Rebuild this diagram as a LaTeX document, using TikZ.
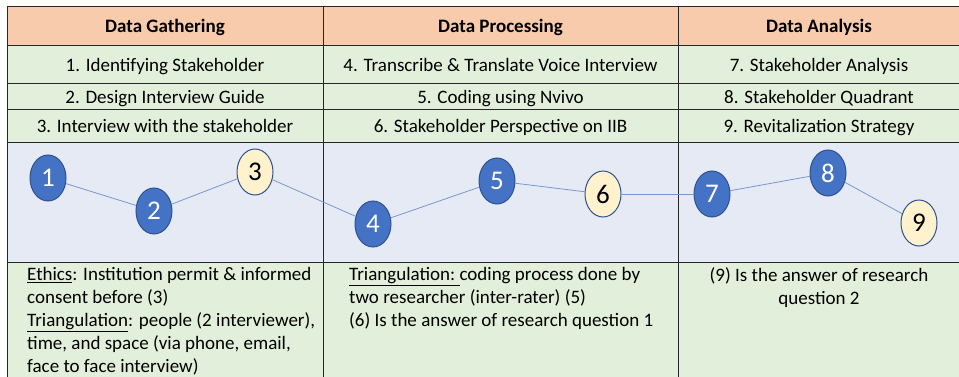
\documentclass[tikz,border=0pt]{standalone}
\usepackage{fontspec}
\setmainfont{Carlito}
\usetikzlibrary{positioning,shapes.geometric}
\definecolor{hpeach}{HTML}{F8CBAD}
\definecolor{rgreen}{HTML}{E2EFDA}
\definecolor{cblue}{RGB}{230,234,245}
\definecolor{sblue}{HTML}{4472C4}
\definecolor{sedge}{HTML}{2F528F}
\definecolor{syellow}{HTML}{FFF2CC}
\definecolor{lblue}{RGB}{120,150,212}

\begin{document}
\begin{tikzpicture}[x=1pt, y=-1pt,
  C/.style={
    draw=black!85, line width=1pt, outer sep=0pt, inner sep=0pt,
    text height=16pt, text depth=3pt,
    align=center, font=\fontsize{19}{23.5}\selectfont},
  Chead/.style={C, fill=hpeach, font=\fontsize{19}{23.5}\selectfont\bfseries},
  Crow/.style ={C, fill=rgreen},
  Cstep/.style={C, fill=cblue},
  W1/.style={minimum width=316pt},
  W2/.style={minimum width=355pt},
  W3/.style={minimum width=282pt},
  S/.style={
    ellipse, draw=sedge, line width=1pt, inner sep=0pt,
    minimum width=36pt, minimum height=46pt,
    font=\fontsize{27}{30}\selectfont},
  Sblue/.style  ={S, fill=sblue, text=white},
  Syellow/.style={S, fill=syellow, text=black},
  link/.style={draw=lblue, line width=0.8pt},
  note/.style={inner sep=0pt, font=\fontsize{19}{23.1}\selectfont},
]

\path[use as bounding box, clip] (0,0) rectangle (959,377);

%% HEADER
\node[Chead, W1, minimum height=39pt, anchor=north west] (hG) at (7,7)
  {Data Gathering};
\node[Chead, W2, minimum height=39pt, right=0pt of hG] (hP) {Data Processing};
\node[Chead, W3, minimum height=39pt, right=0pt of hP] (hA) {Data Analysis};

%% STEP ROWS
\node[Crow, W1, minimum height=38pt, below=0pt of hG] (g1) {1. Identifying Stakeholder};
\node[Crow, W2, minimum height=38pt, below=0pt of hP] (p1) {4. Transcribe \& Translate Voice Interview};
\node[Crow, W3, minimum height=38pt, below=0pt of hA] (a1) {7. Stakeholder Analysis};

\node[Crow, W1, minimum height=26pt, below=0pt of g1] (g2) {2. Design Interview Guide};
\node[Crow, W2, minimum height=26pt, below=0pt of p1] (p2) {5. Coding using Nvivo};
\node[Crow, W3, minimum height=26pt, below=0pt of a1] (a2) {8. Stakeholder Quadrant};

\node[Crow, W1, minimum height=33pt, below=0pt of g2] (g3) {3. Interview with the stakeholder};
\node[Crow, W2, minimum height=33pt, below=0pt of p2] (p3) {6. Stakeholder Perspective on IIB};
\node[Crow, W3, minimum height=33pt, below=0pt of a2] (a3) {9. Revitalization Strategy};

%% FLOW ROW
\node[Cstep, W1, minimum height=119pt, below=0pt of g3] (fG) {};
\node[Cstep, W2, minimum height=119pt, below=0pt of p3] (fP) {};
\node[Cstep, W3, minimum height=119pt, below=0pt of a3] (fA) {};

%% NOTES ROW
\node[Crow, W1, minimum height=128pt, below=0pt of fG] (bG) {};
\node[Crow, W2, minimum height=128pt, below=0pt of fP] (bP) {};
\node[Crow, W3, minimum height=128pt, below=0pt of fA] (bA) {};

\node[note, align=left, below right=5pt and 20pt of bG.north west] (nG)
  {\underline{Ethics}: Institution permit \& informed\\
   consent before (3)\\
   \underline{Triangulation}: people (2 interviewer),\\
   time, and space (via phone, email,\\
   face to face interview)};
\node[note, align=left, below right=5pt and 26pt of bP.north west] (nP)
  {\underline{Triangulation:\ }coding process done by\\
   two researcher (inter-rater) (5)\\
   (6) Is the answer of research question 1};
\node[note, align=center, below=5pt of bA.north] (nA)
  {(9) Is the answer of research\\question 2};

%% STEPS
\node[Sblue]   (s1) at (48,178)  {1};
\node[Sblue]   (s2) at (154,211) {2};
\node[Syellow] (s3) at (255,172) {3};
\node[Sblue]   (s4) at (373,224) {4};
\node[Sblue]   (s5) at (497,181) {5};
\node[Syellow] (s6) at (603,194) {6};
\node[Sblue]   (s7) at (712,194) {7};
\node[Sblue]   (s8) at (828,173) {8};
\node[Syellow] (s9) at (919,223) {9};

\draw[link] (s1) -- (s2);
\draw[link] (s2) -- (s3);
\draw[link] (s3) -- (s4);
\draw[link] (s4) -- (s5);
\draw[link] (s5) -- (s6);
\draw[link] (s6) -- (s7);
\draw[link] (s7) -- (s8);
\draw[link] (s8) -- (s9);

\end{tikzpicture}
\end{document}
